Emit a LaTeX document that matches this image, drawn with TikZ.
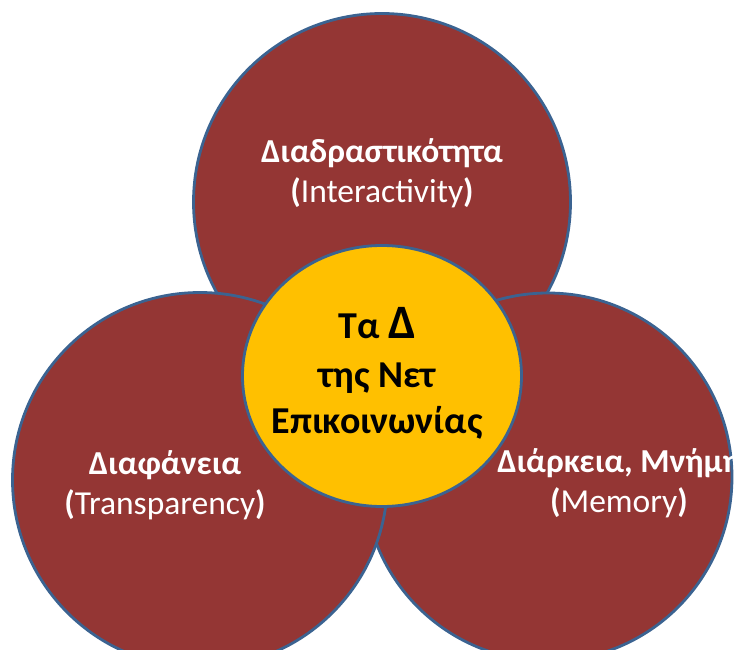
\documentclass[tikz,border=0pt]{standalone}
\usepackage{fontspec}
\setmainfont{Carlito}
\usetikzlibrary{shapes.geometric}
\definecolor{darkred}{HTML}{943634}
\definecolor{gold}{HTML}{FFC000}
\definecolor{rim}{HTML}{3B6391}

\begin{document}
\begin{tikzpicture}[x=1pt,y=-1pt,
    every node/.style={inner sep=0pt,outer sep=0pt},
    bubble/.style={circle,draw=rim,line width=2.8pt,fill=darkred,minimum size=#1},
    bubbletext/.style={text=white,align=center,font=\fontsize{33.5}{40}\selectfont}]
  \useasboundingbox (0,0) rectangle (734,650);
  \clip (0,0) rectangle (734,650);
  % three outer circles
  \draw
    (382,202) node[bubble=377pt] (inter) {}
    (548,477) node[bubble=368pt] (memory) {}
    (200,480) node[bubble=375pt] (transp) {};
  % centre
  \draw
    (382,376) node[ellipse,draw=rim,line width=2.8pt,fill=gold,
      minimum width=279pt,minimum height=261pt] (core) {};
  \draw
    (382,173) node[bubbletext] (intertext)
      {\textbf{Διαδραστικότητα}\\\textbf{(}Interactivity\textbf{)}}
    (165,485) node[bubbletext] (transptext)
      {\textbf{Διαφάνεια}\\\textbf{(}Transparency\textbf{)}}
    (619,483) node[bubbletext] (memorytext)
      {\textbf{Διάρκεια, Μνήμη}\\\textbf{(}Memory\textbf{)}}
    (377,373) node[align=center,font=\bfseries\fontsize{38}{46}\selectfont] (coretext)
      {Τα {\fontsize{48}{48}\selectfont Δ}\\[3pt]της Νετ\\Επικοινωνίας};
\end{tikzpicture}
\end{document}
